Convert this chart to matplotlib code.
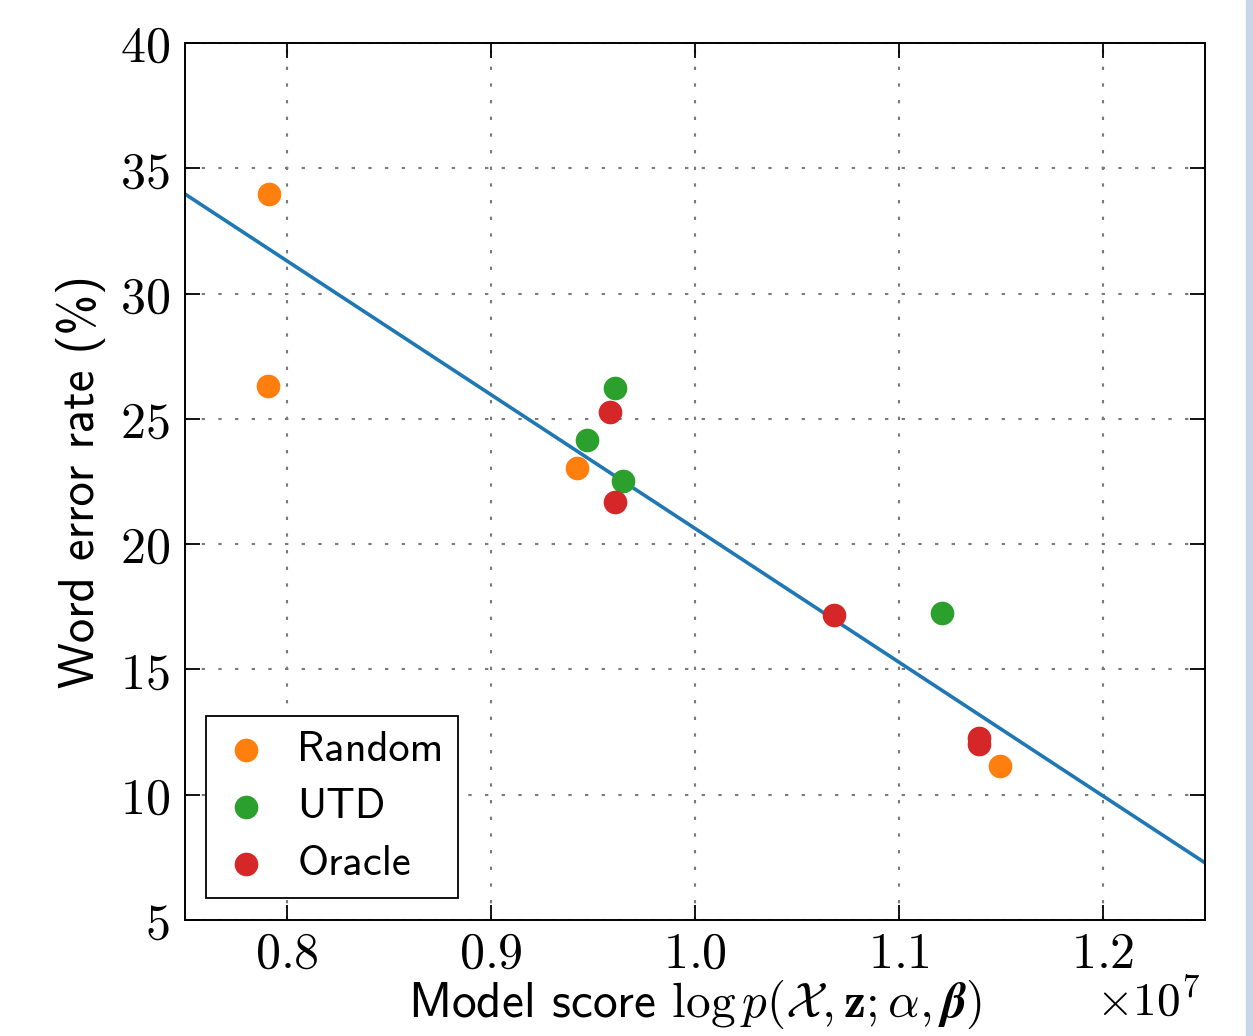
import numpy as np
import matplotlib
matplotlib.use("Agg")
import matplotlib.pyplot as plt
from matplotlib.patches import Rectangle

plt.rcParams["mathtext.fontset"] = "cm"
plt.rcParams["axes.formatter.use_mathtext"] = True

# model score (x 1e7) and word error rate (%) per initialisation
random_x = [0.7912, 0.7907, 0.9419, 1.1495]
random_y = [33.97, 26.31, 23.04, 11.15]
utd_x = [0.9606, 0.9468, 0.9645, 1.1210]
utd_y = [26.23, 24.16, 22.52, 17.25]
oracle_x = [0.9581, 0.9610, 1.0680, 1.1392, 1.1392]
oracle_y = [25.28, 21.68, 17.17, 12.27, 12.03]

# least-squares fit line, endpoints
fit_x = [0.75, 1.25]
fit_y = [33.97, 7.28]

xticks = [0.8, 0.9, 1.0, 1.1, 1.2]
xticklabels = ["0.8", "0.9", "1.0", "1.1", "1.2"]
yticks = [5, 10, 15, 20, 25, 30, 35, 40]

fig = plt.figure(figsize=(12.53, 10.36), dpi=100)
ax = fig.add_axes([0.1477, 0.112, 0.814, 0.8465])

ax.plot(fit_x, fit_y, color="#1f77b4", lw=2.6, zorder=2)
ax.scatter(random_x, random_y, s=290, color="#ff7f0e", label="Random", zorder=3, linewidths=0)
ax.scatter(utd_x, utd_y, s=290, color="#2ca02c", label="UTD", zorder=3, linewidths=0)
ax.scatter(oracle_x, oracle_y, s=290, color="#d62728", label="Oracle", zorder=3, linewidths=0)

ax.set_xlim(0.75, 1.25)
ax.set_ylim(5, 40)
ax.set_xticks(xticks)
ax.set_xticklabels(["$%s$" % t for t in xticklabels])
ax.set_yticks(yticks)
ax.set_yticklabels(["$%d$" % t for t in yticks])
ax.tick_params(direction="in", length=11, width=1.3, labelsize=36,
               top=True, right=True)
ax.tick_params(axis="x", pad=7)
ax.tick_params(axis="y", pad=11)
for sp in ax.spines.values():
    sp.set_linewidth(1.4)

ax.grid(True, linestyle=(0, (1.6, 6.4)), color="#7a7a7a", lw=1.5)
ax.set_axisbelow(True)

ax.set_ylabel("Word error rate (%)", family="cmss10", fontsize=35, labelpad=10)
ax.set_xlabel(r"Model score $\log p(\mathcal{X}, \mathbf{z}; \alpha, \boldsymbol{\beta})$",
              family="cmss10", fontsize=35.5, labelpad=0)
ax.text(0.995, -0.067, r"$\times10^{7}$", transform=ax.transAxes, fontsize=34,
        ha="right", va="top")

leg = ax.legend(loc="lower left", bbox_to_anchor=(0.0206, 0.025),
                prop={"family": "cmss10", "size": 30.5}, frameon=True,
                fancybox=False, edgecolor="black", framealpha=1,
                handletextpad=0.6, handlelength=1.2, borderpad=0.35,
                labelspacing=0.45, borderaxespad=0)
leg.get_frame().set_linewidth(1.3)

fig.patches.append(Rectangle((1246 / 1253, 0), 7 / 1253, 1, transform=fig.transFigure,
                             color="#c9d6e9", zorder=0))

fig.savefig("out.png", dpi=100)
